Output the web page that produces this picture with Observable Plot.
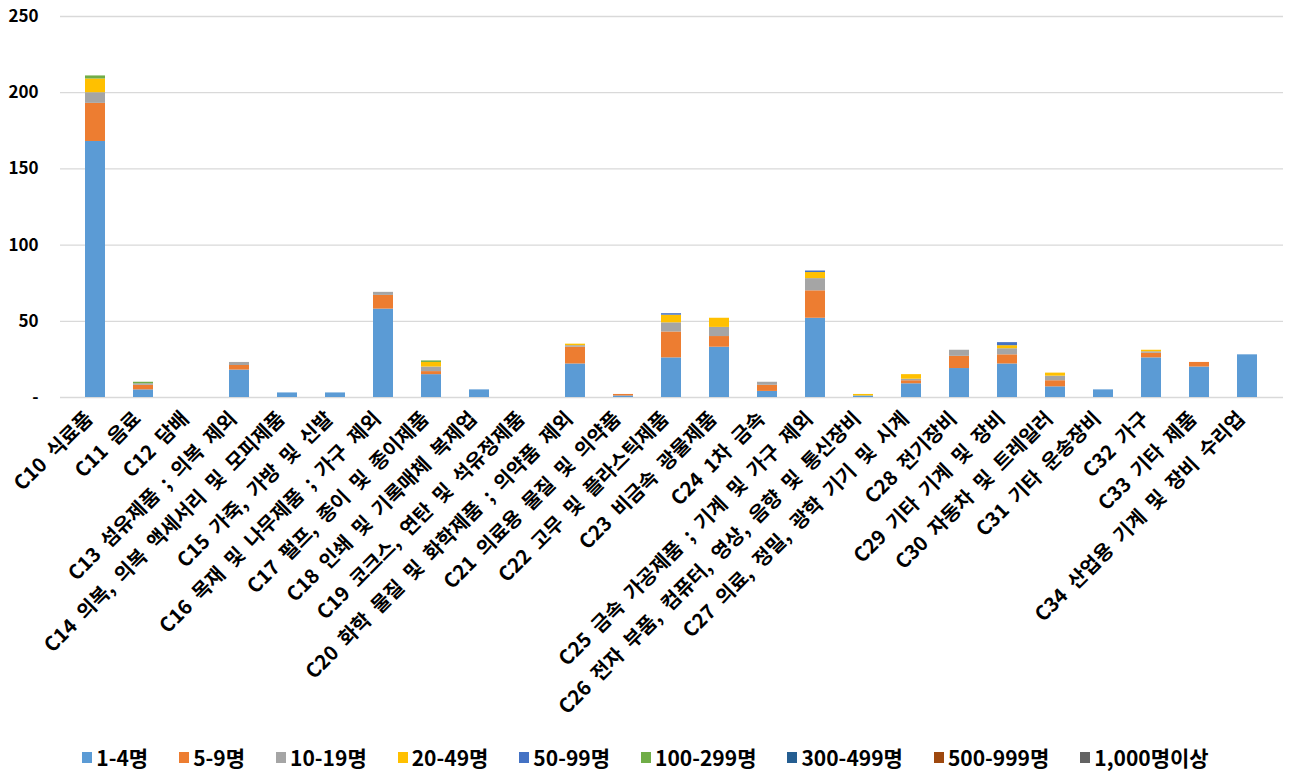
<!DOCTYPE html>
<html><head><meta charset="utf-8">
<script src="https://cdn.jsdelivr.net/npm/d3@7"></script>
<script src="https://cdn.jsdelivr.net/npm/@observablehq/plot@0.6"></script>
<style>
body{margin:0;background:#fff;font-family:"Noto Sans CJK KR","Noto Sans",sans-serif;}
#chart{width:1291px;height:782px;position:relative;}
#legend{position:absolute;top:742px;left:0;width:1291px;display:flex;justify-content:center;gap:31px;font-weight:bold;font-size:21px;color:#000;}
#legend .it{display:flex;align-items:center;gap:4px;}
#legend .sw{width:10px;height:11px;display:inline-block;}
svg text{word-spacing:5px;}
</style></head>
<body><div id="chart"></div>
<script>
const categories = ["C10 식료품","C11 음료","C12 담배","C13 섬유제품 ; 의복 제외","C14 의복, 의복 액세서리 및 모피제품","C15 가죽, 가방 및 신발","C16 목재 및 나무제품 ; 가구 제외","C17 펄프, 종이 및 종이제품","C18 인쇄 및 기록매체 복제업","C19 코크스, 연탄 및 석유정제품","C20 화학 물질 및 화학제품 ; 의약품 제외","C21 의료용 물질 및 의약품","C22 고무 및 플라스틱제품","C23 비금속 광물제품","C24 1차 금속","C25 금속 가공제품 ; 기계 및 가구 제외","C26 전자 부품, 컴퓨터, 영상, 음향 및 통신장비","C27 의료, 정밀, 광학 기기 및 시계","C28 전기장비","C29 기타 기계 및 장비","C30 자동차 및 트레일러","C31 기타 운송장비","C32 가구","C33 기타 제품","C34 산업용 기계 및 장비 수리업"];
const seriesNames = ["1-4명","5-9명","10-19명","20-49명","50-99명","100-299명","300-499명","500-999명","1,000명이상"];
const seriesColors = ["#5B9BD5","#ED7D31","#A5A5A5","#FFC000","#4472C4","#70AD47","#255E91","#9E480E","#636363"];
const s1_4     = [168,5,0,18,3,3,58,15,5,0,22,1,26,33,4,52,1,9,19,22,7,5,26,20,28];
const s5_9     = [25,3,0,3,0,0,9,2,0,0,11,1,17,7,4,18,0,2,8,6,4,0,3,3,0];
const s10_19   = [7,1,0,2,0,0,2,3,0,0,1,0,6,6,2,8,0,1,4,4,3,0,1,0,0];
const s20_49   = [9,0,0,0,0,0,0,3,0,0,1,0,5,6,0,4,1,3,0,2,2,0,1,0,0];
const s50_99   = [0,0,0,0,0,0,0,0,0,0,0,0,1,0,0,1,0,0,0,2,0,0,0,0,0];
const s100_299 = [2,1,0,0,0,0,0,1,0,0,0,0,0,0,0,0,0,0,0,0,0,0,0,0,0];
const s300_499 = [0,0,0,0,0,0,0,0,0,0,0,0,0,0,0,0,0,0,0,0,0,0,0,0,0];
const s500_999 = [0,0,0,0,0,0,0,0,0,0,0,0,0,0,0,0,0,0,0,0,0,0,0,0,0];
const s1000    = [0,0,0,0,0,0,0,0,0,0,0,0,0,0,0,0,0,0,0,0,0,0,0,0,0];
const yTicks = [0,50,100,150,200,250];

const allSeries = [s1_4,s5_9,s10_19,s20_49,s50_99,s100_299,s300_499,s500_999,s1000];
const rows = [];
allSeries.forEach((arr, si) => arr.forEach((v, ci) => rows.push({cat: categories[ci], series: seriesNames[si], value: v})));

const chart = Plot.plot({
  width: 1291, height: 742,
  marginLeft: 60, marginRight: 8, marginTop: 16, marginBottom: 345,
  style: {fontFamily: '"Noto Sans CJK KR","Noto Sans",sans-serif', fontWeight: "bold", color: "#000", background: "#fff"},
  x: {domain: categories, paddingInner: 0.58, paddingOuter: 0.29, label: null},
  y: {domain: [0, 250], label: null},
  color: {domain: seriesNames, range: seriesColors},
  marks: [
    Plot.gridY(yTicks, {stroke: "#d9d9d9", strokeOpacity: 1, strokeWidth: 1.3}),
    Plot.barY(rows, Plot.stackY({x: "cat", y: "value", fill: "series", order: seriesNames})),
    Plot.axisY(yTicks, {tickSize: 0, tickPadding: 22, fontSize: 17, tickFormat: d => d === 0 ? "-" : d, label: null}),
    Plot.axisX({tickSize: 0, tickPadding: 18, dx: -6, tickRotate: -45, fontSize: 20, label: null})
  ]
});
document.getElementById("chart").appendChild(chart);

const leg = document.createElement("div");
leg.id = "legend";
seriesNames.forEach((n, i) => {
  const it = document.createElement("div"); it.className = "it";
  const sw = document.createElement("span"); sw.className = "sw"; sw.style.background = seriesColors[i];
  const t = document.createElement("span"); t.textContent = n;
  it.appendChild(sw); it.appendChild(t); leg.appendChild(it);
});
document.getElementById("chart").appendChild(leg);
</script></body></html>
